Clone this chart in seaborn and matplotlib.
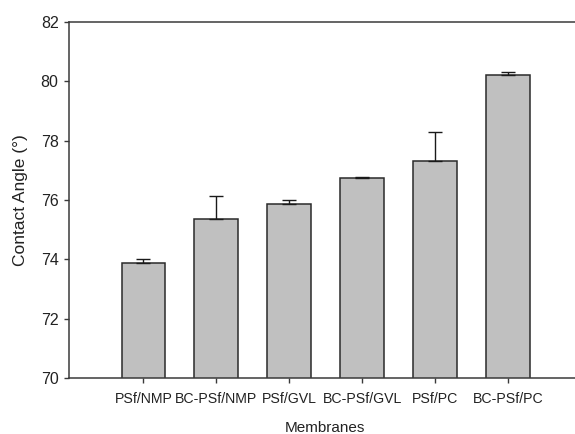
import matplotlib
matplotlib.use("Agg")
import matplotlib.pyplot as plt
import seaborn as sns
import pandas as pd
import numpy as np

# Contact angle measurements per membrane
membranes = ["PSf/NMP", "BC-PSf/NMP", "PSf/GVL", "BC-PSf/GVL", "PSf/PC", "BC-PSf/PC"]
contact_angle = [73.87, 75.37, 75.86, 76.73, 77.31, 80.21]
std_dev = [0.14, 0.77, 0.13, 0.03, 0.97, 0.11]
y_ticks = [70, 72, 74, 76, 78, 80, 82]

df = pd.DataFrame({"Membranes": membranes, "Contact Angle": contact_angle, "SD": std_dev})

sns.set_style("ticks")
plt.rcParams["font.family"] = ["Liberation Sans", "DejaVu Sans"]

fig = plt.figure(figsize=(5.75, 4.34), dpi=100)
ax = fig.add_axes([69 / 575, 56 / 434, 512 / 575, 356 / 434])

sns.barplot(data=df, x="Membranes", y="Contact Angle", order=membranes,
            color="#c0c0c0", saturation=1, width=0.6, errorbar=None,
            edgecolor="#2a2a2a", linewidth=1.1, ax=ax)

# upward-only standard deviation whiskers
xpos = np.arange(len(membranes))
ax.errorbar(xpos, df["Contact Angle"], yerr=[np.zeros(len(membranes)), df["SD"]],
            fmt="none", ecolor="#1a1a1a", elinewidth=1.0, capsize=5, capthick=1.0,
            zorder=3)

ax.set_ylim(70, 82)
ax.set_xlim(-1.02, 6.0)
ax.set_yticks(y_ticks)
ax.set_yticklabels([str(t) for t in y_ticks])

for side in ["left", "bottom", "top"]:
    ax.spines[side].set_color("#3a3a3a")
    ax.spines[side].set_linewidth(1.1)
ax.spines["right"].set_visible(False)

ax.tick_params(axis="y", direction="out", length=3.5, width=1.0, color="#3a3a3a",
               pad=4, labelsize=11.5, labelcolor="#222222")
ax.tick_params(axis="x", direction="out", length=3.8, width=1.0, color="#3a3a3a",
               pad=6, labelsize=10.2, labelcolor="#222222")

ax.set_xlabel("Membranes", fontsize=11, color="#222222", labelpad=11)
ax.set_ylabel("Contact Angle (°)", fontsize=12.5, color="#222222", labelpad=9)

fig.savefig("out.png", dpi=100)
